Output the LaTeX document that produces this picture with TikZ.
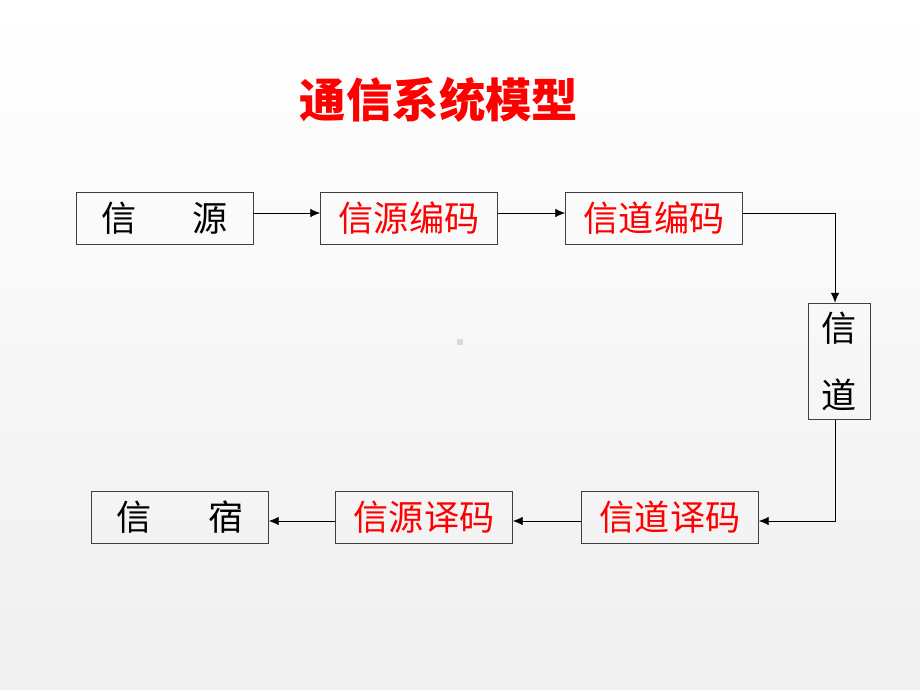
\documentclass[tikz,border=0pt]{standalone}
\usepackage{fontspec}
\setmainfont{Noto Sans CJK SC}
\usetikzlibrary{arrows.meta}

\begin{document}
\begin{tikzpicture}[x=0.025cm,y=-0.025cm,
	blk/.style={draw=black!75,line width=0.6pt,minimum width=4.42cm,minimum height=1.32cm,inner sep=0pt,font=\fontsize{25}{25}\selectfont},
	red/.style={text=red},
	lnk/.style={-{Latex[length=7pt,width=6pt]},line width=0.5pt}]
	% background
	\fill[top color=white,bottom color=black!6] (0,0) rectangle (920,690);
	\fill[black!15] (457,339) rectangle (463,345);
	\node[text=red,font=\fontsize{33}{33}\selectfont\bfseries] (title) at (439,100) {通信系统模型};
	% upper row
	\node[blk] (src) at (164.5,218.5) {信\hspace{1.6em}源};
	\node[blk,red] (srcenc) at (409,218.5) {信源编码};
	\node[blk,red] (chenc) at (654,218.5) {信道编码};
	% channel
	\node[blk,minimum width=1.57cm,minimum height=2.92cm,align=center] (chan) at (839.5,361.5) {信\\[0.9em]道};
	% lower row
	\node[blk] (dst) at (180,517.5) {信\hspace{1.6em}宿};
	\node[blk,red] (srcdec) at (424,517.5) {信源译码};
	\node[blk,red] (chdec) at (670,517.5) {信道译码};
	\coordinate (c1) at (835,213);
	\coordinate (c2) at (835,521);
	\draw[lnk] (src.east |- 0,213) -- (srcenc.west |- 0,213);
	\draw[lnk] (srcenc.east |- 0,213) -- (chenc.west |- 0,213);
	\draw[lnk] (chenc.east |- c1) -- (c1) -- (c1 |- chan.north);
	\draw[lnk] (c1 |- chan.south) -- (c2) -- (chdec.east |- c2);
	\draw[lnk] (chdec.west |- c2) -- (srcdec.east |- c2);
	\draw[lnk] (srcdec.west |- c2) -- (dst.east |- c2);
\end{tikzpicture}
\end{document}
